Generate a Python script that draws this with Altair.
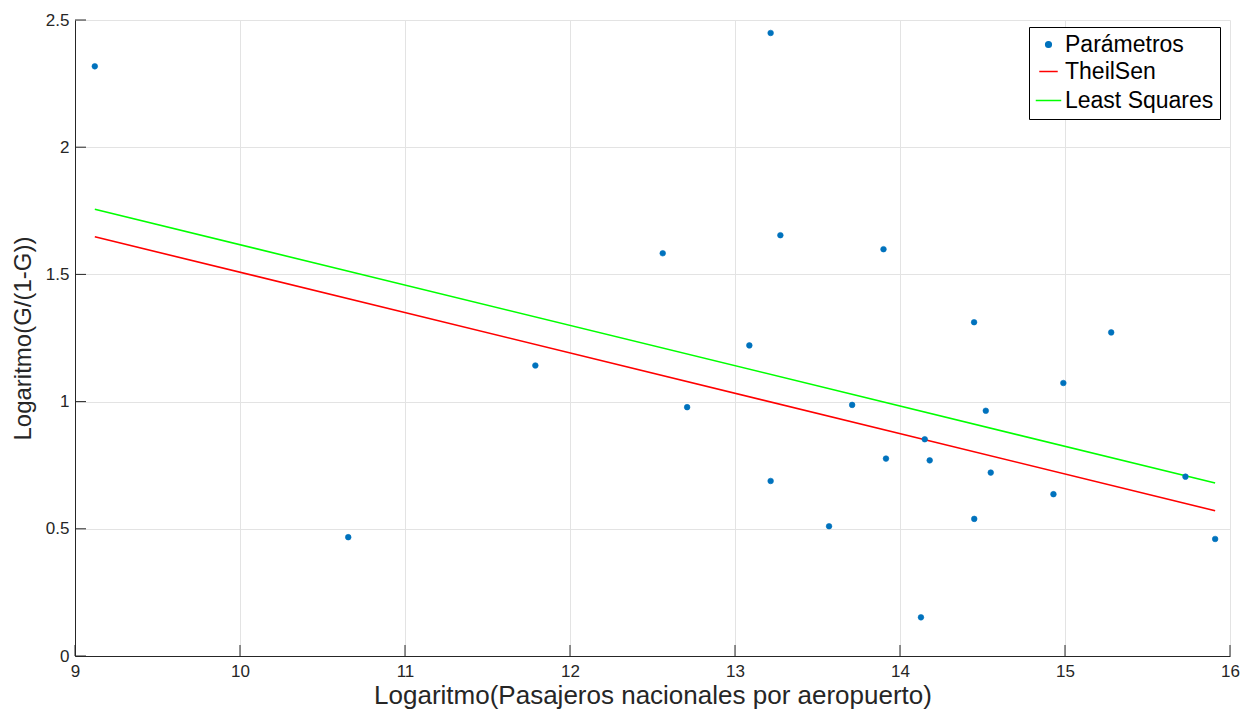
import altair as alt
import pandas as pd

# Observed parameters
log_pasajeros = [9.12, 10.656, 11.79, 12.562, 12.71, 13.087, 13.216, 13.216, 13.275,
                 13.57, 13.71, 13.90, 13.915, 14.127, 14.15, 14.18, 14.449, 14.45,
                 14.52, 14.55, 14.93, 14.99, 15.28, 15.73, 15.91]
log_g = [2.318, 0.467, 1.142, 1.583, 0.978, 1.221, 2.449, 0.688, 1.654,
         0.510, 0.987, 1.599, 0.776, 0.152, 0.852, 0.769, 1.312, 0.539,
         0.964, 0.721, 0.636, 1.073, 1.272, 0.705, 0.460]

# Fitted lines, evaluated at the ends of the x range
fit_x = [9.12, 15.91]
theilsen_y = [1.648, 0.571]
least_squares_y = [1.756, 0.680]

series_names = ["Parámetros", "TheilSen", "Least Squares"]
series_colors = ["#0072BD", "#FF0000", "#00FF00"]

x_ticks = [9, 10, 11, 12, 13, 14, 15, 16]
y_ticks = [0, 0.5, 1, 1.5, 2, 2.5]

W, H = 1155, 636
INK = "#262626"
FONT = "Liberation Sans"

points = pd.DataFrame({"x": log_pasajeros, "y": log_g, "serie": series_names[0]})
lines = pd.DataFrame({
    "x": fit_x + fit_x,
    "y": theilsen_y + least_squares_y,
    "serie": [series_names[1]] * 2 + [series_names[2]] * 2,
})

x_scale = alt.Scale(domain=[9, 16], nice=False, zero=False)
y_scale = alt.Scale(domain=[0, 2.5], nice=False, zero=False)
color_scale = alt.Scale(domain=series_names, range=series_colors)

x_axis = alt.Axis(values=x_ticks, title="Logaritmo(Pasajeros nacionales por aeropuerto)",
                  ticks=False, labelPadding=7, titlePadding=3, format="d",
                  labelFlush=False, titleFontSize=26)
y_axis = alt.Axis(values=y_ticks, title="Logaritmo(G/(1-G))",
                  ticks=False, labelPadding=6, titlePadding=10, format="~g",
                  labelFlush=False, titleFontSize=24)

legend = alt.Legend(
    title=None, orient="none", legendX=954, legendY=7,
    strokeColor="black", fillColor="white", padding=6,
    labelFont=FONT, labelFontSize=23, labelColor="black",
    symbolStrokeWidth=1.5, rowPadding=3, labelOffset=3,
)

pts = alt.Chart(points).mark_point(filled=True, opacity=1, strokeWidth=0.6).encode(
    x=alt.X("x:Q", scale=x_scale, axis=x_axis),
    y=alt.Y("y:Q", scale=y_scale, axis=y_axis),
    color=alt.Color("serie:N", scale=color_scale, legend=legend),
    stroke=alt.Stroke("serie:N", scale=color_scale, legend=legend),
    shape=alt.Shape("serie:N", scale=alt.Scale(domain=series_names,
                                                range=["circle", "stroke", "stroke"]),
                    legend=legend),
    size=alt.Size("serie:N", scale=alt.Scale(domain=series_names, range=[32, 650, 650]),
                  legend=legend),
)

fits = alt.Chart(lines).mark_line(strokeWidth=1.6).encode(
    x="x:Q",
    y="y:Q",
    color=alt.Color("serie:N", scale=color_scale, legend=legend),
    detail="serie:N",
)

# Inward tick marks along the bottom and left axes
xt = alt.Chart(pd.DataFrame({"v": x_ticks})).mark_rule(color=INK, strokeWidth=1).encode(
    x="v:Q", y=alt.value(H), y2=alt.value(H - 11)
)
yt = alt.Chart(pd.DataFrame({"v": y_ticks})).mark_rule(color=INK, strokeWidth=1).encode(
    y="v:Q", x=alt.value(0), x2=alt.value(11)
)

chart = alt.layer(fits, pts, xt, yt).properties(
    width=W, height=H,
    autosize=alt.AutoSizeParams(type="none"),
    padding={"left": 75, "top": 20, "right": 14, "bottom": 59},
).configure_view(stroke=None).configure_axis(
    labelFont=FONT, titleFont=FONT, labelFontSize=17,
    labelColor=INK, titleColor=INK, titleFontWeight="normal",
    domainColor=INK, domainWidth=1, gridColor="#e3e3e3", gridWidth=1,
)

chart.save("out.html", embed_options={"renderer": "svg", "actions": False})
